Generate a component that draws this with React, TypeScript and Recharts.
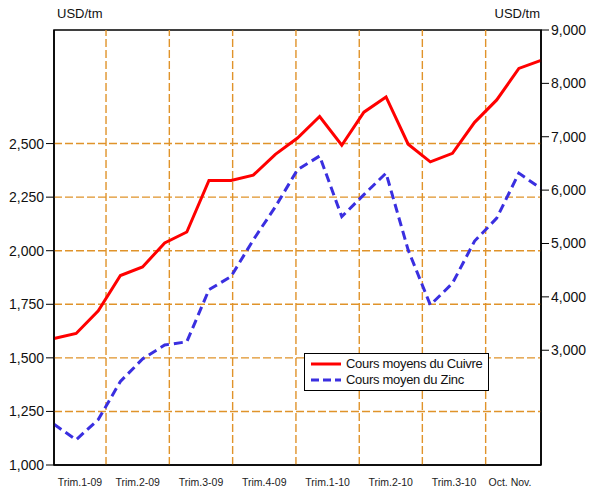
import { LineChart, Line, XAxis, YAxis, ReferenceLine, ReferenceArea } from 'recharts';

// monthly averages, Jan 2009 .. Nov 2010
const cuivre = [3220, 3315, 3740, 4400, 4560, 5010, 5215, 6180, 6180, 6280, 6670, 6975, 7380, 6840, 7460, 7745, 6860, 6530, 6690, 7270, 7690, 8280, 8430];
const zinc = [1190, 1118, 1212, 1390, 1495, 1560, 1575, 1818, 1880, 2050, 2205, 2378, 2442, 2159, 2262, 2362, 2003, 1747, 1848, 2045, 2152, 2362, 2290];

const quarterLabels = ['Trim.1-09', 'Trim.2-09', 'Trim.3-09', 'Trim.4-09', 'Trim.1-10', 'Trim.2-10', 'Trim.3-10', 'Oct. Nov.'];
const quarterLabelPos = [1.17, 3.78, 6.64, 9.5, 12.36, 15.21, 18.07, 20.6];
const quarterEdges = [2.35, 5.21, 8.07, 10.93, 13.79, 16.64, 19.5];

const zincTicks = [1000, 1250, 1500, 1750, 2000, 2250, 2500];
const cuivreTicks = [3000, 4000, 5000, 6000, 7000, 8000, 9000];

const data = cuivre.map((c, i) => ({ i, cuivre: c, zinc: zinc[i] }));

const GRID = '#E0932A';
const FONT = '"Liberation Sans", Arial, sans-serif';
const fmt = (v: number) => v.toLocaleString('en-US');

export default function App() {
  return (
    <div style={{ position: 'absolute', left: 0, top: 0, width: 589, height: 495, background: '#fff', fontFamily: FONT }}>
      <div style={{ position: 'absolute', left: 57, top: 6, fontSize: 13, color: '#111' }}>USD/tm</div>
      <div style={{ position: 'absolute', right: 49, top: 6, fontSize: 13, color: '#111' }}>USD/tm</div>
      <LineChart width={589} height={495} data={data} margin={{ top: 30, right: 0, left: 0, bottom: 0 }}>
        <XAxis
          xAxisId="q"
          dataKey="i"
          type="number"
          domain={[0, 22]}
          ticks={quarterLabelPos}
          interval={0}
          tickFormatter={(v: number) => quarterLabels[quarterLabelPos.indexOf(v)]}
          tickLine={false}
          tickSize={6}
          tickMargin={8}
          height={30}
          axisLine={{ stroke: '#000', strokeWidth: 1.5 }}
          tick={{ fill: '#222', fontSize: 10.5, fontFamily: FONT }}
        />
        <YAxis
          yAxisId="zinc"
          domain={[1000, 3030]}
          ticks={zincTicks}
          interval={0}
          width={54}
          tickSize={8}
          tickFormatter={fmt}
          axisLine={{ stroke: '#000', strokeWidth: 1.5 }}
          tickLine={{ stroke: '#000' }}
          tick={{ fill: '#111', fontSize: 14, fontFamily: FONT }}
        />
        <YAxis
          yAxisId="cuivre"
          orientation="right"
          domain={[850, 9000]}
          ticks={cuivreTicks}
          interval={0}
          width={48}
          tickSize={8}
          tickFormatter={fmt}
          axisLine={{ stroke: '#000', strokeWidth: 1.5 }}
          tickLine={{ stroke: '#000' }}
          tick={{ fill: '#111', fontSize: 14, fontFamily: FONT }}
        />
        {zincTicks.slice(1).map(y => (
          <ReferenceLine key={'h' + y} y={y} xAxisId="q" yAxisId="zinc" stroke={GRID} strokeWidth={1.4} strokeDasharray="8 3" />
        ))}
        {quarterEdges.map(x => (
          <ReferenceLine key={'v' + x} x={x} xAxisId="q" yAxisId="zinc" stroke={GRID} strokeWidth={1.4} strokeDasharray="8 3" />
        ))}
        <ReferenceArea xAxisId="q" yAxisId="zinc" x1={0} x2={22} y1={1000} y2={3030} fill="none" stroke="#000" strokeWidth={1.5} />
        <Line xAxisId="q" yAxisId="cuivre" dataKey="cuivre" stroke="#FF0000" strokeWidth={3} dot={false} isAnimationActive={false} />
        <Line xAxisId="q" yAxisId="zinc" dataKey="zinc" stroke="#3A2FE0" strokeWidth={3} strokeDasharray="9 5" dot={false} isAnimationActive={false} />
      </LineChart>
      <div style={{ position: 'absolute', left: 304, top: 353, width: 185, height: 38, border: '1px solid #000', background: '#fff', boxSizing: 'border-box', fontSize: 13, letterSpacing: -0.3, color: '#111', lineHeight: '16px', padding: '2px 0 0 6px' }}>
        <div style={{ display: 'flex', alignItems: 'center' }}>
          <svg width={30} height={16}><line x1={0} y1={8} x2={30} y2={8} stroke="#FF0000" strokeWidth={3} /></svg>
          <span style={{ marginLeft: 5 }}>Cours moyens du Cuivre</span>
        </div>
        <div style={{ display: 'flex', alignItems: 'center' }}>
          <svg width={30} height={16}><line x1={0} y1={8} x2={30} y2={8} stroke="#3A2FE0" strokeWidth={3} strokeDasharray="8 4" /></svg>
          <span style={{ marginLeft: 5 }}>Cours moyen du Zinc</span>
        </div>
      </div>
    </div>
  );
}
